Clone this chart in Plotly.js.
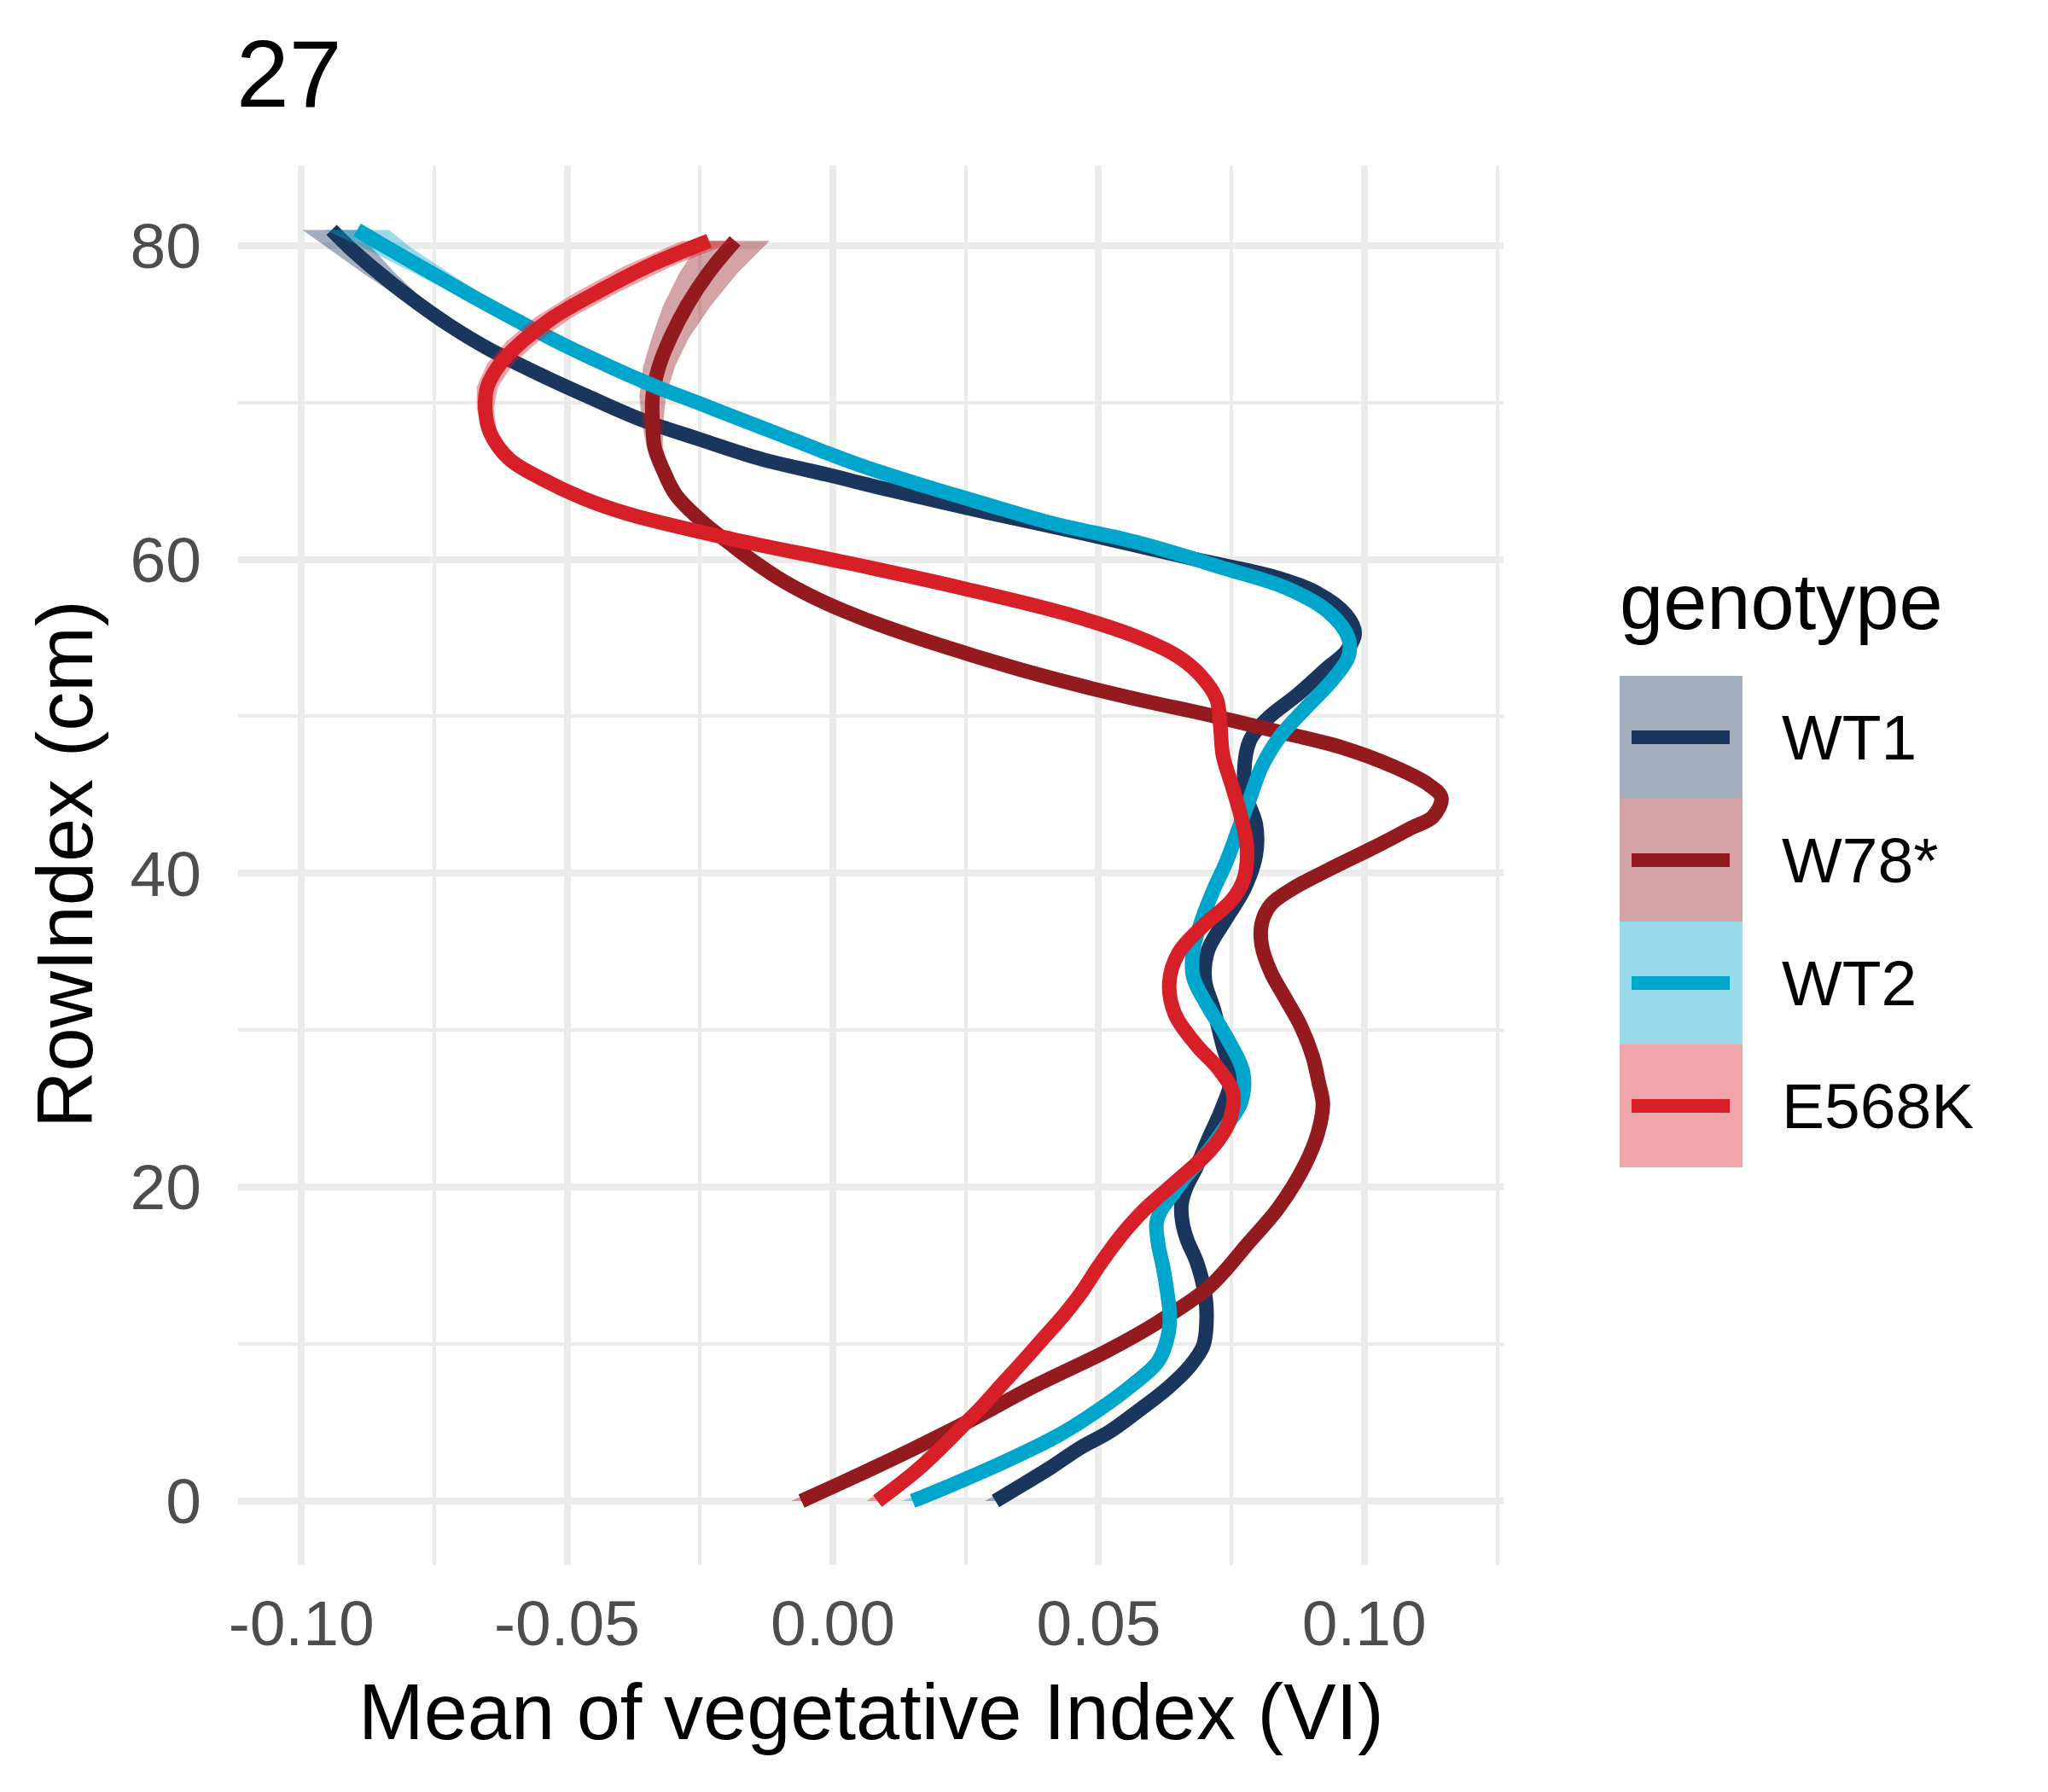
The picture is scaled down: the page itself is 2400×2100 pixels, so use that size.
<!DOCTYPE html>
<html>
<head>
<meta charset="utf-8">
<script src="https://cdn.plot.ly/plotly-3.0.1.min.js"></script>
<style>html,body{margin:0;padding:0;background:#fff;}#chart{width:2400px;height:2100px;}</style>
</head>
<body>
<div id="chart"></div>
<script>
// ---------------- DATA ----------------
const genotypes = ['WT1', 'W78*', 'WT2', 'E568K'];
const chartTitle = '27';
const xTitle = 'Mean of vegetative Index (VI)';
const yTitle = 'RowIndex (cm)';
const legendTitle = 'genotype';

const xTickVals = [-0.10, -0.05, 0.00, 0.05, 0.10];
const xTickText = ['-0.10', '-0.05', '0.00', '0.05', '0.10'];
const xMinorVals = [-0.075, -0.025, 0.025, 0.075, 0.125];
const yTickVals = [0, 20, 40, 60, 80];
const yTickText = ['0', '20', '40', '60', '80'];
const yMinorVals = [10, 30, 50, 70];

// WT1
const wt1Y  = [0, 1.1, 2.2, 3.4, 4.4, 5.7, 7.2, 8.6, 9.9, 11.4, 13.0, 15.2, 16.6, 17.7, 18.9, 20.0, 21.2, 23.1, 25.0, 27.0, 29.0, 31.3, 33.2, 35.1, 37.1, 39.0, 41.2, 43.1, 44.8, 46.5, 48.5, 49.9, 51.4, 53.1, 54.1, 55.3, 56.5, 57.9, 58.9, 60.0, 61.6, 63.0, 64.6, 65.4, 66.4, 67.7, 68.9, 70.4, 71.8, 73.5, 75.0, 76.6, 78.2, 79.9, 81.0];
const wt1X  = [0.0306, 0.0360, 0.0413, 0.0466, 0.0520, 0.0573, 0.0630, 0.0672, 0.0697, 0.0703, 0.0701, 0.0685, 0.0667, 0.0658, 0.0656, 0.0665, 0.0683, 0.0707, 0.0732, 0.0750, 0.0734, 0.0717, 0.0700, 0.0706, 0.0740, 0.0774, 0.0796, 0.0796, 0.0779, 0.0774, 0.0785, 0.0819, 0.0875, 0.0931, 0.0965, 0.0982, 0.0965, 0.0909, 0.0830, 0.0683, 0.0480, 0.0290, 0.0085, -0.0010, -0.0135, -0.0255, -0.0360, -0.0462, -0.0552, -0.0652, -0.0725, -0.0792, -0.0852, -0.0910, -0.0943];
const wt1SE = [0.0020, 0.0015, 0.0012, 0.0010, 0.0008, 0.0008, 0.0008, 0.0008, 0.0008, 0.0008, 0.0008, 0.0008, 0.0008, 0.0008, 0.0008, 0.0008, 0.0008, 0.0008, 0.0008, 0.0008, 0.0008, 0.0008, 0.0008, 0.0008, 0.0008, 0.0008, 0.0008, 0.0008, 0.0008, 0.0008, 0.0008, 0.0008, 0.0008, 0.0008, 0.0008, 0.0008, 0.0008, 0.0008, 0.0008, 0.0008, 0.0008, 0.0008, 0.0008, 0.0008, 0.0008, 0.0008, 0.0008, 0.0010, 0.0010, 0.0012, 0.0015, 0.0020, 0.0030, 0.0042, 0.0055];

// W78*
const w78Y  = [0, 1.5, 3.3, 5.2, 7.3, 9.6, 11.4, 13.7, 16.4, 18.7, 21.4, 23.5, 25.3, 26.7, 28.3, 30.3, 32.0, 33.7, 35.4, 36.8, 38.0, 39.0, 40.2, 41.7, 42.9, 43.6, 44.8, 45.6, 46.8, 48.0, 49.05, 50.15, 50.9, 51.8, 52.8, 53.9, 55.05, 56.1, 57.2, 58.6, 59.8, 61.05, 62.3, 64.1, 65.6, 67.1, 68.7, 70.4, 72.3, 74.1, 76.2, 78.3, 80.3];
const w78X  = [-0.0059, 0.0038, 0.0150, 0.0262, 0.0378, 0.0518, 0.0612, 0.0710, 0.0781, 0.0839, 0.0888, 0.0913, 0.0922, 0.0914, 0.0903, 0.0880, 0.0852, 0.0824, 0.0807, 0.0807, 0.0824, 0.0864, 0.0931, 0.1021, 0.1089, 0.1129, 0.1145, 0.1123, 0.1055, 0.0960, 0.0835, 0.0700, 0.0598, 0.0485, 0.0372, 0.0262, 0.0155, 0.0067, -0.0012, -0.0092, -0.0146, -0.0195, -0.0242, -0.0295, -0.0318, -0.0335, -0.0339, -0.0339, -0.0327, -0.0306, -0.0274, -0.0233, -0.0184];
const w78SE = [0.0020, 0.0015, 0.0010, 0.0008, 0.0008, 0.0008, 0.0008, 0.0008, 0.0008, 0.0008, 0.0008, 0.0008, 0.0008, 0.0008, 0.0008, 0.0008, 0.0008, 0.0008, 0.0008, 0.0008, 0.0008, 0.0008, 0.0008, 0.0008, 0.0008, 0.0008, 0.0008, 0.0008, 0.0008, 0.0008, 0.0008, 0.0008, 0.0008, 0.0008, 0.0008, 0.0008, 0.0008, 0.0008, 0.0008, 0.0008, 0.0008, 0.0008, 0.0008, 0.0008, 0.0010, 0.0015, 0.0020, 0.0025, 0.0030, 0.0035, 0.0045, 0.0055, 0.0065];

// WT2
const wt2Y  = [0, 1.0, 2.5, 4.2, 5.8, 7.3, 8.9, 10.6, 11.9, 13.1, 14.8, 16.4, 17.7, 18.5, 19.3, 20.8, 22.0, 23.9, 25.4, 27.3, 29.6, 31.5, 33.4, 35.1, 37.1, 39.0, 40.7, 42.7, 44.8, 46.8, 48.7, 50.4, 52.4, 53.8, 55.0, 56.7, 58.2, 59.4, 61.1, 62.3, 63.5, 64.6, 65.9, 66.9, 67.9, 68.9, 70.0, 71.0, 72.3, 73.7, 75.2, 76.8, 78.5, 79.9, 81.0];
const wt2X  = [0.0150, 0.0222, 0.0323, 0.0425, 0.0500, 0.0560, 0.0612, 0.0631, 0.0634, 0.0630, 0.0622, 0.0612, 0.0609, 0.0617, 0.0634, 0.0667, 0.0699, 0.0740, 0.0768, 0.0772, 0.0740, 0.0706, 0.0678, 0.0678, 0.0695, 0.0717, 0.0740, 0.0762, 0.0785, 0.0807, 0.0841, 0.0886, 0.0942, 0.0970, 0.0970, 0.0931, 0.0852, 0.0740, 0.0571, 0.0413, 0.0290, 0.0180, 0.0060, -0.0020, -0.0095, -0.0172, -0.0255, -0.0332, -0.0420, -0.0508, -0.0593, -0.0680, -0.0768, -0.0840, -0.0895];
const wt2SE = [0.0020, 0.0015, 0.0012, 0.0010, 0.0008, 0.0008, 0.0008, 0.0008, 0.0008, 0.0008, 0.0008, 0.0008, 0.0008, 0.0008, 0.0008, 0.0008, 0.0008, 0.0008, 0.0008, 0.0008, 0.0008, 0.0008, 0.0008, 0.0008, 0.0008, 0.0008, 0.0008, 0.0008, 0.0008, 0.0008, 0.0008, 0.0008, 0.0008, 0.0008, 0.0008, 0.0008, 0.0008, 0.0008, 0.0008, 0.0008, 0.0008, 0.0008, 0.0008, 0.0008, 0.0008, 0.0008, 0.0008, 0.0008, 0.0010, 0.0012, 0.0015, 0.0025, 0.0035, 0.0045, 0.0060];

// E568K
const e568Y  = [0, 2.1, 4.8, 6.1, 7.5, 8.8, 10.4, 11.9, 13.4, 14.8, 16.0, 17.1, 18.1, 19.0, 19.8, 20.6, 21.4, 22.2, 23.3, 24.4, 26.0, 27.4, 29.1, 31.0, 33.0, 34.9, 36.6, 38.3, 39.7, 41.7, 43.6, 45.6, 47.5, 49.4, 51.1, 52.6, 53.8, 55.0, 56.5, 58.2, 59.8, 61.3, 62.9, 63.9, 65.2, 66.4, 68.1, 69.6, 71.0, 72.5, 73.9, 75.4, 77.0, 78.7, 80.3];
const e568X  = [0.0084, 0.0163, 0.0245, 0.0283, 0.0320, 0.0355, 0.0397, 0.0436, 0.0470, 0.0497, 0.0522, 0.0547, 0.0573, 0.0600, 0.0627, 0.0654, 0.0681, 0.0706, 0.0732, 0.0748, 0.0753, 0.0729, 0.0683, 0.0644, 0.0633, 0.0650, 0.0695, 0.0751, 0.0774, 0.0779, 0.0768, 0.0751, 0.0734, 0.0729, 0.0722, 0.0692, 0.0650, 0.0577, 0.0443, 0.0240, 0.0025, -0.0190, -0.0385, -0.0470, -0.0551, -0.0609, -0.0645, -0.0654, -0.0650, -0.0625, -0.0584, -0.0527, -0.0445, -0.0347, -0.0233];
const e568SE = [0.0020, 0.0013, 0.0010, 0.0008, 0.0008, 0.0008, 0.0008, 0.0008, 0.0008, 0.0008, 0.0008, 0.0008, 0.0008, 0.0008, 0.0008, 0.0008, 0.0008, 0.0008, 0.0008, 0.0008, 0.0008, 0.0008, 0.0008, 0.0008, 0.0008, 0.0008, 0.0008, 0.0008, 0.0008, 0.0008, 0.0008, 0.0008, 0.0008, 0.0008, 0.0008, 0.0008, 0.0008, 0.0008, 0.0008, 0.0008, 0.0008, 0.0008, 0.0008, 0.0008, 0.0008, 0.0010, 0.0013, 0.0016, 0.0020, 0.0025, 0.0030, 0.0035, 0.0040, 0.0045, 0.0050];

// ---------------- STYLE ----------------
const lineColors = ['#1B365D', '#931A1E', '#00A5CC', '#D71F27'];
const fillColors = ['rgba(27,54,93,0.4)', 'rgba(147,26,30,0.4)', 'rgba(0,165,204,0.4)', 'rgba(215,31,39,0.4)'];
const seriesY = [wt1Y, w78Y, wt2Y, e568Y];
const seriesX = [wt1X, w78X, wt2X, e568X];
const seriesSE = [wt1SE, w78SE, wt2SE, e568SE];

const FONT = 'Liberation Sans, Arial, sans-serif';
const W = 2400, H = 2100;
const PL = 279, PR = 1762, PT = 194, PB = 1834;
const px2x = p => (p - PL) / (PR - PL);
const px2y = p => (PB - p) / (PB - PT);

const traces = [];
genotypes.forEach((g, i) => {
  const ys = seriesY[i], xs = seriesX[i], se = seriesSE[i];
  const lo = xs.map((v, k) => v - se[k]);
  const hi = xs.map((v, k) => v + se[k]);
  traces.push({
    type: 'scatter', mode: 'lines',
    x: lo.concat(hi.slice().reverse()),
    y: ys.concat(ys.slice().reverse()),
    fill: 'toself', fillcolor: fillColors[i],
    line: {width: 0, color: fillColors[i]},
    hoverinfo: 'skip', showlegend: false
  });
  traces.push({
    type: 'scatter', mode: 'lines', name: g,
    x: xs, y: ys,
    line: {color: lineColors[i], width: 17, shape: 'spline', smoothing: 1},
    showlegend: false
  });
});

// manual ggplot-style legend
const shapes = [];
const annotations = [];
const keyL = 1898, keyR = 2042, keyTop = 792, keyH = 144;
genotypes.forEach((g, i) => {
  const t = keyTop + i * keyH, b = t + keyH, c = t + keyH / 2;
  shapes.push({type: 'rect', xref: 'paper', yref: 'paper',
    x0: px2x(keyL), x1: px2x(keyR), y0: px2y(b), y1: px2y(t),
    fillcolor: fillColors[i], line: {width: 0}, layer: 'above'});
  shapes.push({type: 'line', xref: 'paper', yref: 'paper',
    x0: px2x(1912), x1: px2x(2027), y0: px2y(c), y1: px2y(c),
    line: {color: lineColors[i], width: 16}, layer: 'above'});
  annotations.push({xref: 'paper', yref: 'paper', x: px2x(2086), y: px2y(c),
    xanchor: 'left', yanchor: 'middle', showarrow: false, text: g,
    font: {family: FONT, size: 75, color: '#000'}});
});
annotations.push({xref: 'paper', yref: 'paper', x: px2x(1896), y: px2y(705),
  xanchor: 'left', yanchor: 'middle', showarrow: false, text: legendTitle,
  font: {family: FONT, size: 92, color: '#000'}});
// plot title
annotations.push({xref: 'paper', yref: 'paper', x: px2x(275), y: px2y(87),
  xanchor: 'left', yanchor: 'middle', showarrow: false, text: chartTitle,
  font: {family: FONT, size: 111, color: '#000'}});
// axis titles
annotations.push({xref: 'paper', yref: 'paper', x: 0.5, y: px2y(2006),
  xanchor: 'center', yanchor: 'middle', showarrow: false, text: xTitle,
  font: {family: FONT, size: 92, color: '#000'}});
annotations.push({xref: 'paper', yref: 'paper', x: px2x(76), y: px2y(1012),
  xanchor: 'center', yanchor: 'middle', showarrow: false, text: yTitle, textangle: -90,
  font: {family: FONT, size: 92, color: '#000'}});

const gridC = '#EBEBEB';
const layout = {
  width: W, height: H,
  margin: {l: PL, r: W - PR, t: PT, b: H - PB, pad: 0},
  paper_bgcolor: '#fff', plot_bgcolor: '#fff',
  showlegend: false,
  xaxis: {
    range: [-0.1119, 0.1262], tickmode: 'array', tickvals: xTickVals, ticktext: xTickText,
    showgrid: true, gridcolor: gridC, gridwidth: 8, zeroline: false, showline: false, ticks: '',
    minor: {tickmode: 'array', tickvals: xMinorVals, showgrid: true, gridcolor: gridC, gridwidth: 4, ticks: ''},
    tickfont: {family: FONT, size: 75, color: '#4D4D4D'}, ticklabelstandoff: 18
  },
  yaxis: {
    range: [-4.08, 85.1], tickmode: 'array', tickvals: yTickVals, ticktext: yTickText,
    showgrid: true, gridcolor: gridC, gridwidth: 8, zeroline: false, showline: false, ticks: '',
    minor: {tickmode: 'array', tickvals: yMinorVals, showgrid: true, gridcolor: gridC, gridwidth: 4, ticks: ''},
    tickfont: {family: FONT, size: 75, color: '#4D4D4D'}, ticklabelstandoff: 42
  },
  shapes: shapes,
  annotations: annotations
};

Plotly.newPlot('chart', traces, layout, {staticPlot: true, displayModeBar: false});
</script>
</body>
</html>
